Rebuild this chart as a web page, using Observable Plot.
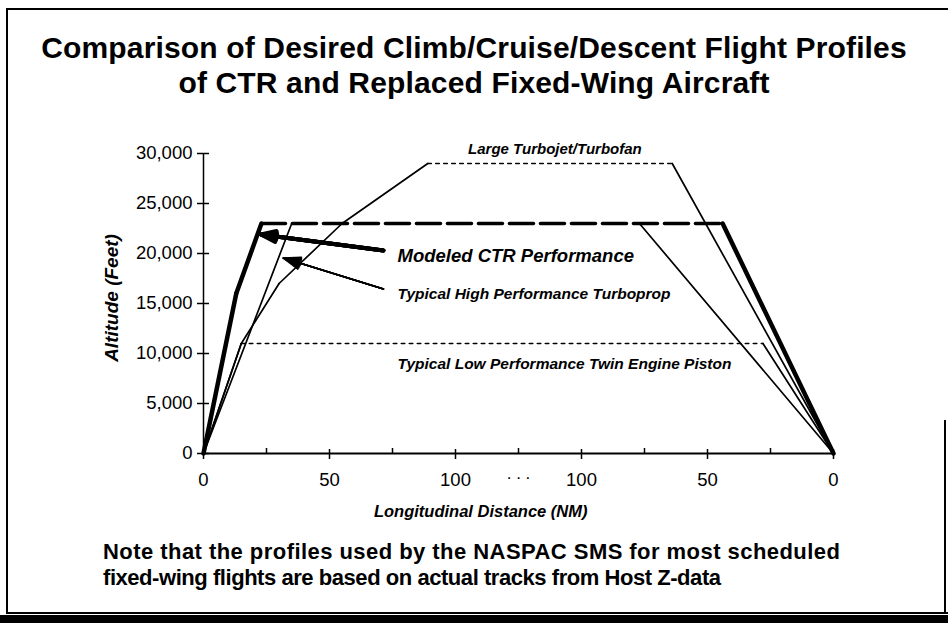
<!DOCTYPE html>
<html>
<head>
<meta charset="utf-8">
<script src="https://cdn.jsdelivr.net/npm/d3@7"></script>
<script src="https://cdn.jsdelivr.net/npm/@observablehq/plot@0.6"></script>
<style>
  html, body { margin: 0; padding: 0; background: #fff; }
  #page { position: relative; width: 948px; height: 623px; background: #fff; overflow: hidden;
          font-family: "Liberation Sans", Arial, Helvetica, sans-serif; color: #000; }
  .ln { position: absolute; background: #000; z-index: 3; }
  #title { position: absolute; top: 30px; left: 0; width: 948px; text-align: center;
           font-weight: bold; font-size: 30px; line-height: 35px; letter-spacing: 0.15px; }
  #chart { position: absolute; top: 110px; left: 0; z-index: 1; }
  #note { position: absolute; top: 539px; left: 103px; font-weight: bold; font-size: 22px; line-height: 26px; white-space: nowrap; }
</style>
</head>
<body>
<div id="page">
  <div id="title">Comparison of Desired Climb/Cruise/Descent Flight Profiles<br>of CTR and Replaced Fixed-Wing Aircraft</div>
  <div id="chart"></div>
  <div id="note"><span style="letter-spacing:0.45px">Note that the profiles used by the NASPAC SMS for most scheduled</span><br><span style="letter-spacing:-0.45px">fixed-wing flights are based on actual tracks from Host Z-data</span></div>
  <div class="ln" style="left:6px;top:8px;width:942px;height:2px;"></div>
  <div class="ln" style="left:6px;top:8px;width:2px;height:606px;"></div>
  <div class="ln" style="left:944px;top:420px;width:1.5px;height:194px;"></div>
  <div class="ln" style="left:6px;top:612px;width:942px;height:1.5px;"></div>
  <div class="ln" style="left:0px;top:615px;width:948px;height:8px;"></div>
</div>
<script>
// ---- Data (distance in NM along a continuous axis: 0..125 outbound, 125..250 = 125..0 NM to go) ----
const yTicks = [0, 5000, 10000, 15000, 20000, 25000, 30000];
const xMajor = [0, 50, 100, 150, 200, 250];
const xTickLabels = ["0", "50", "100", "100", "50", "0"];
const xMinor = [25, 75, 125, 175, 225];
const ellipsisLabel = ". . .";
const ellipsisAt = 125;

// Modeled CTR
const ctrX   = [0, 13, 23, 206, 250];
const ctrAlt = [0, 16000, 23000, 23000, 0];
const ctrPhase = ["climb", "climb", "cruise", "descent"];
// Typical High Performance Turboprop (cruise shares CTR dashed line)
const tpX   = [0, 35, 173, 250];
const tpAlt = [0, 23000, 23000, 0];
const tpPhase = ["climb", "shared", "descent"];
// Large Turbojet/Turbofan
const tjX   = [0, 15, 30, 55, 89, 186, 250];
const tjAlt = [0, 11000, 17000, 23000, 29000, 29000, 0];
const tjPhase = ["climb", "climb", "climb", "climb", "cruise", "descent"];
// Typical Low Performance Twin Engine Piston
const pX   = [0, 15, 222, 250];
const pAlt = [0, 11000, 11000, 0];
const pPhase = ["climb", "cruise", "descent"];

// Annotations
const labelText = ["Large Turbojet/Turbofan", "Modeled CTR Performance",
                   "Typical High Performance Turboprop", "Typical Low Performance Twin Engine Piston"];
const labelX = [105, 77, 77, 77];
const labelAlt = [30400, 19750, 15950, 8970];
const arrowFromX = [71.4, 71.4];
const arrowFromAlt = [20300, 16450];
const arrowToX = [22.8, 31.7];
const arrowToAlt = [21900, 19540];

const xLabel = "Longitudinal Distance (NM)";
const yLabel = "Altitude (Feet)";

// ---- Build tables ----
function segs(name, xs, ys, phases) {
  const out = [];
  phases.forEach((ph, i) => {
    const id = name + "-" + i;
    out.push({name, seg: id, phase: ph, x: xs[i], y: ys[i]});
    out.push({name, seg: id, phase: ph, x: xs[i + 1], y: ys[i + 1]});
  });
  return out;
}
const ctr = segs("ctr", ctrX, ctrAlt, ctrPhase);
const tp = segs("tp", tpX, tpAlt, tpPhase);
const tj = segs("tj", tjX, tjAlt, tjPhase);
const pi = segs("pi", pX, pAlt, pPhase);
const thinSolid = [...tp, ...tj, ...pi].filter(d => d.phase === "climb" || d.phase === "descent");
const dotted = [...tj, ...pi].filter(d => d.phase === "cruise");
const ctrSolid = ctr.filter(d => d.phase !== "cruise");
const ctrCruise = ctr.filter(d => d.phase === "cruise");

const labels = labelText.map((t, i) => ({t, x: labelX[i], y: labelAlt[i]}));
const arrows = arrowFromX.map((x, i) => ({x1: x, y1: arrowFromAlt[i], x2: arrowToX[i], y2: arrowToAlt[i]}));

const font = "Liberation Sans, Arial, Helvetica, sans-serif";

const chart = Plot.plot({
  width: 948, height: 420,
  marginTop: 43, marginBottom: 77, marginLeft: 203, marginRight: 115,
  x: {domain: [0, 250]},
  y: {domain: [0, 30000]},
  style: {fontFamily: font, fontSize: "18.5px", color: "black", background: "transparent", overflow: "visible"},
  marks: [
    Plot.axisY({ticks: yTicks, tickSize: 12, dx: 6, tickPadding: 5, strokeWidth: 1.5,
                tickFormat: d3.format(","), label: null}),
    Plot.axisX({ticks: xMajor, tickSize: 10, dy: -4, tickPadding: 13, strokeWidth: 1.5,
                tickFormat: d => xTickLabels[xMajor.indexOf(d)], label: null}),
    Plot.axisX({ticks: xMinor, tickSize: 5, dy: -5, strokeWidth: 1.5, tickFormat: () => "", label: null}),
    Plot.text([ellipsisLabel], {x: ellipsisAt, frameAnchor: "bottom", dy: 25, fontSize: 17}),
    Plot.ruleX([0], {strokeWidth: 1.5}),
    Plot.ruleY([0], {strokeWidth: 2.2}),
    Plot.line(thinSolid, {x: "x", y: "y", z: "seg", stroke: "black", strokeWidth: 1.7}),
    Plot.line(dotted, {x: "x", y: "y", z: "seg", stroke: "black", strokeWidth: 1.6, strokeDasharray: "3.5,4.5"}),
    Plot.line(ctrCruise, {x: "x", y: "y", z: "seg", stroke: "black", strokeWidth: 3.6, strokeDasharray: "24,7"}),
    Plot.line(ctrSolid, {x: "x", y: "y", z: "seg", stroke: "black", strokeWidth: 4.5, strokeLinejoin: "miter"}),
    // arrows (fan of wings to give a filled head)
    ...[10, 20, 30, 40].map(a => Plot.arrow([arrows[0]], {x1: "x1", y1: "y1", x2: "x2", y2: "y2",
        stroke: "black", strokeWidth: 4, headAngle: a, headLength: 6})),
    ...[8, 16, 24, 32, 40].map(a => Plot.arrow([arrows[1]], {x1: "x1", y1: "y1", x2: "x2", y2: "y2",
        stroke: "black", strokeWidth: 1.6, headAngle: a, headLength: 17})),
    Plot.text([labels[0]], {x: "x", y: "y", text: "t", textAnchor: "start", fontSize: 15, fontWeight: "bold", fontStyle: "italic"}),
    Plot.text([labels[1]], {x: "x", y: "y", text: "t", textAnchor: "start", fontSize: 18.5, fontWeight: "bold", fontStyle: "italic"}),
    Plot.text(labels.slice(2), {x: "x", y: "y", text: "t", textAnchor: "start", fontSize: 15.5, fontWeight: "bold", fontStyle: "italic"}),
    Plot.text([xLabel], {x: 110, frameAnchor: "bottom", dy: 63, fontSize: 16.5, fontWeight: "bold", fontStyle: "italic"}),
    Plot.text([yLabel], {y: 15550, frameAnchor: "left", dx: -92, rotate: -90, textAnchor: "middle", fontSize: 19, fontWeight: "bold", fontStyle: "italic"})
  ]
});
document.getElementById("chart").appendChild(chart);
</script>
</body>
</html>
